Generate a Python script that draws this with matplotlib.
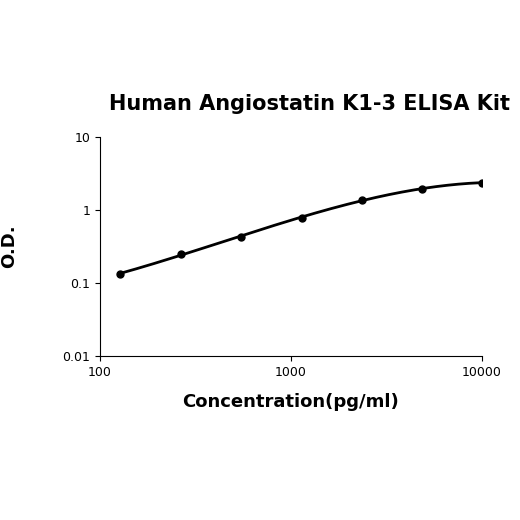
import matplotlib
matplotlib.use("Agg")
import matplotlib.pyplot as plt
import numpy as np

conc = [127, 265, 547, 1143, 2355, 4854, 10000]
od = [0.133, 0.25, 0.43, 0.78, 1.38, 1.95, 2.35]
xticks = [100, 1000, 10000]
yticks = [0.01, 0.1, 1, 10]

fig = plt.figure(figsize=(5.2, 5.2), dpi=100)
ax = fig.add_axes([0.192, 0.315, 0.735, 0.422])
lx, ly = np.log10(conc), np.log10(od)
coef = np.polyfit(lx, ly, 3)
xs = np.linspace(lx[0], lx[-1], 200)
ax.plot(10**xs, 10**np.polyval(coef, xs), color="black", lw=2)
ax.plot(conc, od, "o", color="black", ms=5)
ax.set_xscale("log"); ax.set_yscale("log")
ax.set_xlim(100, 10000); ax.set_ylim(0.01, 10)
ax.set_xticks(xticks); ax.set_xticklabels([str(v) for v in xticks])
ax.set_yticks(yticks); ax.set_yticklabels(["0.01", "0.1", "1", "10"])
ax.minorticks_off()
ax.tick_params(labelsize=9)
for s in ["top", "right"]:
    ax.spines[s].set_visible(False)
ax.set_xlabel("Concentration(pg/ml)", fontsize=13, fontweight="bold", labelpad=10)
ax.set_ylabel("O.D.", fontsize=13, fontweight="bold", labelpad=32)
fig.text(0.595, 0.8, "Human Angiostatin K1-3 ELISA Kit", ha="center", va="center",
         fontsize=15, fontweight="bold")
fig.savefig("out.png", dpi=100)
